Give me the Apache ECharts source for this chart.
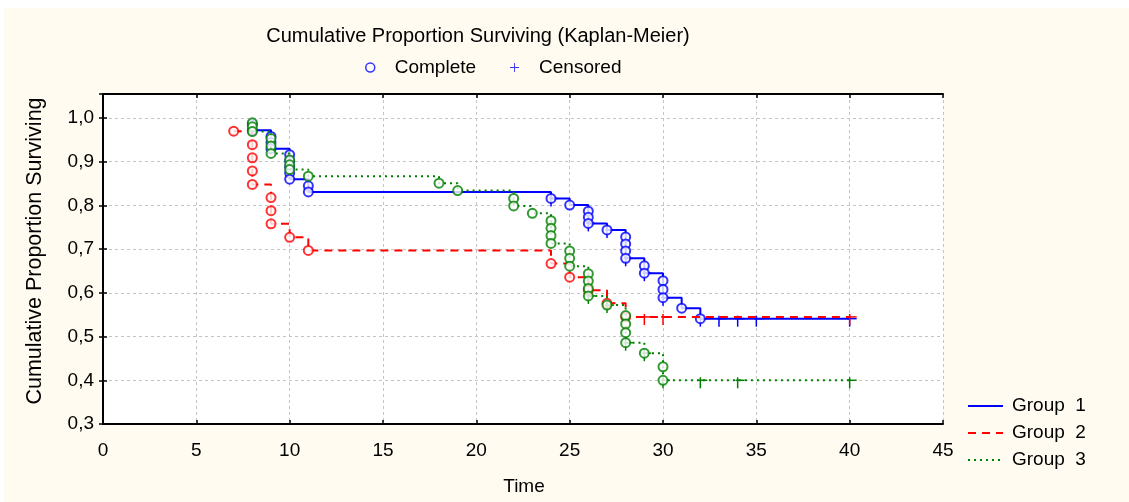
<!DOCTYPE html>
<html><head><meta charset="utf-8">
<script src="https://cdn.jsdelivr.net/npm/echarts@6/dist/echarts.min.js"></script>
<style>html,body{margin:0;padding:0;background:#fff}#c{width:1129px;height:502px}</style>
</head><body><div id="c"></div>
<script>
// ---------- data ----------
const xTickValues = [0, 5, 10, 15, 20, 25, 30, 35, 40, 45];
const yTickLabels = ['0,3', '0,4', '0,5', '0,6', '0,7', '0,8', '0,9', '1,0'];
const groupNames = ['Group  1', 'Group  2', 'Group  3'];

// Group 1: event times and the survival levels drawn (one circle per level)
const g1Times = [8, 9, 10, 11, 24, 25, 26, 27, 28, 29, 30, 31, 32];
const g1Levels = [[0.986, 0.972], [0.958, 0.944, 0.930], [0.916, 0.902, 0.888, 0.874, 0.860], [0.845, 0.831],
  [0.816], [0.801], [0.787, 0.773, 0.759], [0.744], [0.728, 0.712, 0.696, 0.679], [0.662, 0.645],
  [0.628, 0.608, 0.589], [0.565], [0.541]];
const g1CensorTimes = [24, 26, 27, 28, 29, 30, 32, 33, 34, 35, 40];
const g1CensorValues = [0.816, 0.759, 0.744, 0.679, 0.645, 0.589, 0.541, 0.541, 0.541, 0.541, 0.541];

// Group 2
const g2Times = [7, 8, 9, 10, 11, 24, 25, 26, 27, 28];
const g2Levels = [[0.970], [0.939, 0.909, 0.879, 0.848], [0.818, 0.788, 0.758], [0.727], [0.697],
  [0.667], [0.636], [0.606], [0.576], [0.545]];
const g2CensorTimes = [29, 30, 40];
const g2CensorValues = [0.545, 0.545, 0.545];

// Group 3
const g3Times = [8, 9, 10, 11, 18, 19, 22, 23, 24, 25, 26, 27, 28, 29, 30];
const g3Levels = [[0.989, 0.980, 0.969], [0.953, 0.936, 0.919], [0.904, 0.893, 0.882], [0.867], [0.851], [0.834],
  [0.816, 0.799], [0.782], [0.765, 0.748, 0.731, 0.713], [0.696, 0.679, 0.661], [0.644, 0.627, 0.610, 0.593],
  [0.572], [0.548, 0.529, 0.509, 0.486], [0.462], [0.431, 0.400]];
const g3CensorTimes = [26, 27, 28, 29, 30, 32, 34, 40];
const g3CensorValues = [0.593, 0.572, 0.486, 0.462, 0.400, 0.400, 0.400, 0.400];

const lastTime = 40;

// ---------- helpers ----------
function stepPoints(times, levels, endT) {
  const pts = []; let cur = null;
  times.forEach((t, i) => {
    const lv = levels[i];
    pts.push([t, cur === null ? lv[0] : cur]);
    const last = lv[lv.length - 1];
    pts.push([t, last]);
    cur = last;
  });
  pts.push([endT, cur]);
  return pts;
}
function circlePoints(times, levels) {
  const pts = [];
  times.forEach((t, i) => levels[i].forEach(v => pts.push([t, v])));
  return pts;
}
function zip(a, b) { return a.map((v, i) => [v, b[i]]); }

const FONT = 'Liberation Sans, Arial, sans-serif';
const colors = ['#0000ff', '#ff0000', '#008000'];
const lineTypes = ['solid', [8, 6], [2, 4]];
const groups = [
  [g1Times, g1Levels, g1CensorTimes, g1CensorValues],
  [g2Times, g2Levels, g2CensorTimes, g2CensorValues],
  [g3Times, g3Levels, g3CensorTimes, g3CensorValues]
];

const series = [];
groups.forEach((g, k) => {
  const col = colors[k];
  series.push({
    name: groupNames[k], type: 'line', xAxisIndex: 0, yAxisIndex: 0,
    data: stepPoints(g[0], g[1], lastTime), symbol: 'none', showSymbol: false,
    lineStyle: { color: col, width: 2, type: lineTypes[k] }, itemStyle: { color: col },
    z: 2 + k * 3, animation: false
  });
  series.push({
    name: 'censored' + k, type: 'custom', xAxisIndex: 0, yAxisIndex: 0,
    data: zip(g[2], g[3]), encode: { x: 0, y: 1 }, z: 3 + k * 3, animation: false,
    renderItem: (params, api) => {
      const p = api.coord([api.value(0), api.value(1)]);
      return { type: 'group', children: [
        { type: 'line', shape: { x1: p[0], y1: p[1] - 3, x2: p[0], y2: p[1] + 8 }, style: { stroke: col, lineWidth: 1.5 } },
        { type: 'line', shape: { x1: p[0] - 2, y1: p[1], x2: p[0] + 7, y2: p[1] }, style: { stroke: col, lineWidth: 1.5 } }
      ] };
    }
  });
  series.push({
    name: 'circles' + k, type: 'scatter', xAxisIndex: 0, yAxisIndex: 0,
    data: circlePoints(g[0], g[1]), symbol: 'circle', symbolSize: 9,
    itemStyle: { color: '#fff', borderColor: col, borderWidth: 2 },
    z: 4 + k * 3, animation: false
  });
});
// legend-only dummy series
series.push({ name: 'Complete', type: 'scatter', data: [], itemStyle: { color: '#fff', borderColor: '#0000ff', borderWidth: 1.5 } });
series.push({ name: 'Censored', type: 'scatter', data: [], itemStyle: { color: '#0000ff' } });

// group legend drawn as graphic (line sample + label)
const legendGraphics = [];
groupNames.forEach((n, k) => {
  const y = 406 + k * 27;
  legendGraphics.push({ type: 'line', shape: { x1: 968, y1: y, x2: 1003, y2: y },
    style: { stroke: colors[k], lineWidth: 2, lineDash: k === 0 ? null : lineTypes[k] } });
  legendGraphics.push({ type: 'text', x: 1012, y: y, style: { text: n, font: '19px ' + FONT, fill: '#000', textVerticalAlign: 'middle' } });
});

const axisLineStyle = { show: true, lineStyle: { color: '#000', width: 2 } };
const tickStyle = { show: true, inside: true, length: 4, lineStyle: { color: '#000', width: 1.5 } };

const chart = echarts.init(document.getElementById('c'));
chart.setOption({
  backgroundColor: '#fffbf0',
  animation: false,
  textStyle: { fontFamily: FONT },
  graphic: [
    { type: 'rect', shape: { x: 0, y: 0, width: 1129, height: 8 }, style: { fill: '#fff' }, z: -10 },
    { type: 'rect', shape: { x: 0, y: 0, width: 4, height: 502 }, style: { fill: '#fff' }, z: -10 },
    { type: 'text', x: 478, y: 36, style: { text: 'Cumulative Proportion Surviving (Kaplan-Meier)', font: '20px ' + FONT, fill: '#000', textAlign: 'center', textVerticalAlign: 'middle' } },
    { type: 'text', x: 35, y: 251, rotation: Math.PI / 2, style: { text: 'Cumulative Proportion Surviving', font: '21.5px ' + FONT, fill: '#000', textAlign: 'center', textVerticalAlign: 'middle' } },
    { type: 'text', x: 524, y: 487, style: { text: 'Time', font: '19px ' + FONT, fill: '#000', textAlign: 'center', textVerticalAlign: 'middle' } }
  ].concat(legendGraphics),
  legend: [
    {
      data: [
        { name: 'Complete', icon: 'circle', itemStyle: { color: '#fff', borderColor: '#0000ff', borderWidth: 1.5 } },
        { name: 'Censored', icon: 'path://M4.5,0L5.5,0L5.5,10L4.5,10Z M0,4.5L10,4.5L10,5.5L0,5.5Z', itemStyle: { color: '#0000ff' } }
      ],
      left: 360, top: 53, itemWidth: 9, itemHeight: 9, itemGap: 34, selectedMode: false,
      textStyle: { fontSize: 19, color: '#000', fontFamily: FONT, padding: [0, 0, 0, 15] }
    }
  ],
  grid: { left: 103, right: 186, top: 94, bottom: 78, show: true, backgroundColor: '#fff', borderWidth: 0, z: 0 },
  xAxis: [
    {
      type: 'value', min: xTickValues[0], max: xTickValues[xTickValues.length - 1], interval: 5, position: 'bottom',
      axisLine: axisLineStyle, axisTick: tickStyle,
      axisLabel: { fontSize: 19, color: '#000', margin: 17, fontFamily: FONT },
      splitLine: { show: true, lineStyle: { color: '#c4c4c4', type: [3, 3], width: 1 } }
    },
    {
      type: 'value', min: xTickValues[0], max: xTickValues[xTickValues.length - 1], interval: 5, position: 'top',
      axisLine: axisLineStyle, axisTick: tickStyle,
      axisLabel: { show: false }, splitLine: { show: false }
    }
  ],
  yAxis: [
    {
      type: 'value', min: 0.3, max: 1.055, interval: 0.1, position: 'left',
      axisLine: axisLineStyle, axisTick: tickStyle,
      axisLabel: { fontSize: 19, color: '#000', margin: 9, fontFamily: FONT,
        formatter: v => { const i = Math.round((v - 0.3) * 10); return (v > 1.0001) ? '' : yTickLabels[i]; } },
      splitLine: { show: true, lineStyle: { color: '#c4c4c4', type: [3, 3], width: 1 } }
    },
    {
      type: 'value', min: 0.3, max: 1.055, interval: 0.1, position: 'right',
      axisLine: axisLineStyle, axisTick: tickStyle,
      axisLabel: { show: false }, splitLine: { show: false }
    }
  ],
  series: series
});
</script>
</body></html>
